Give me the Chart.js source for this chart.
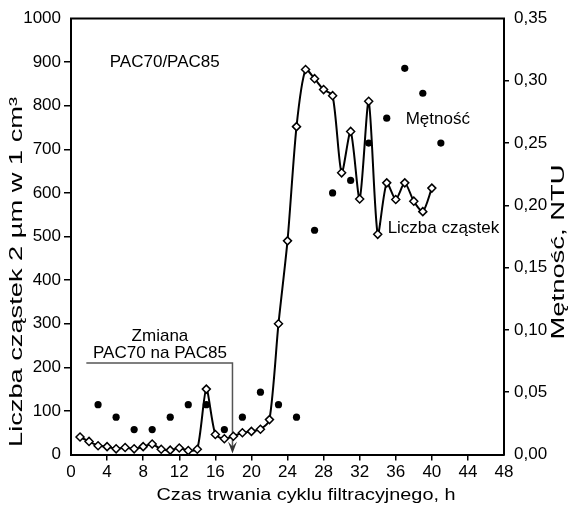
<!DOCTYPE html>
<html>
<head>
<meta charset="utf-8">
<script src="https://cdn.jsdelivr.net/npm/chart.js@4.4.0/dist/chart.umd.min.js"></script>
<style>
  body { margin: 0; background: #fff; }
  #box { width: 577px; height: 506px; }
</style>
</head>
<body>
<div id="box"><canvas id="myChart"></canvas></div>
<script>
// liczba cząstek - pomiar co godzinę
var hours = [1,2,3,4,5,6,7,8,9,10,11,12,13,14,15,16,17,18,19,20,21,22,23,24,25,26,27,28,29,30,31,32,33,34,35,36,37,38,39,40];
var particles = [40,30,20,18,13,16,13,18,24,12,10,15,9,12,150,46,36,42,50,53,58,80,300,490,752,883,862,837,823,646,741,586,810,505,623,585,623,581,557,611];
// mętność - pomiar co 2 godziny
var turbHours = [3,5,7,9,11,13,15,17,19,21,23,25,27,29,31,33,35,37,39,41];
var turbidity = [0.04,0.03,0.02,0.02,0.03,0.04,0.04,0.02,0.03,0.05,0.04,0.03,0.18,0.21,0.22,0.25,0.27,0.31,0.29,0.25];
var xTicks = [0,4,8,12,16,20,24,28,32,36,40,44,48];
var yTicks = [0,100,200,300,400,500,600,700,800,900,1000];
var y2Ticks = [0,0.05,0.10,0.15,0.20,0.25,0.30,0.35];
var changeAt = 17.9;    // zmiana koagulanta
var changeLevel = 210;

var FONT = '"Liberation Sans", Arial, sans-serif';
Chart.defaults.font.family = FONT;
Chart.defaults.color = '#000';

function hideEnds(ctx) {
  var n = ctx.scale.ticks.length - 1;
  return (ctx.index == 0 || ctx.index == n) ? 'rgba(0,0,0,0)' : '#000';
}

function label(c, s, x, y, size, align, w) {
  c.font = size + 'px ' + FONT;
  c.textAlign = align;
  c.textBaseline = 'middle';
  c.fillStyle = '#000';
  if (w) {
    var k = w / c.measureText(s).width;
    c.save(); c.translate(x, y); c.scale(k, 1); c.fillText(s, 0, 0); c.restore();
  } else {
    c.fillText(s, x, y);
  }
}

var annot = {
  id: 'annot',
  beforeDatasetsDraw: function(chart) {
    var c = chart.ctx, x = chart.scales.x, y = chart.scales.y, a = chart.chartArea;
    var xs = x.getPixelForValue(changeAt), yl = y.getPixelForValue(changeLevel);
    c.save();
    c.strokeStyle = '#555';
    c.lineWidth = 1.5;
    c.beginPath();
    c.moveTo(x.getPixelForValue(1.7), yl);
    c.lineTo(xs, yl);
    c.lineTo(xs, a.bottom - 6);
    c.stroke();
    c.fillStyle = '#333';
    c.beginPath();
    c.moveTo(xs, a.bottom - 1);
    c.lineTo(xs - 4.5, a.bottom - 13);
    c.lineTo(xs, a.bottom - 8);
    c.lineTo(xs + 4.5, a.bottom - 13);
    c.closePath();
    c.fill();
    c.restore();
  },
  afterDraw: function(chart) {
    var c = chart.ctx, x = chart.scales.x, y = chart.scales.y, a = chart.chartArea;
    c.save();
    c.strokeStyle = '#000';
    c.lineWidth = 2;
    c.beginPath();
    c.moveTo(a.left - 1, a.top);
    c.lineTo(a.right + 1, a.top);
    c.stroke();

    label(c, 'PAC70/PAC85', x.getPixelForValue(4.3), y.getPixelForValue(900), 17, 'left');
    label(c, 'Mętność', x.getPixelForValue(37.1), y.getPixelForValue(768), 17, 'left');
    label(c, 'Liczba cząstek', x.getPixelForValue(35.1), y.getPixelForValue(518), 17, 'left');
    label(c, 'Zmiana', x.getPixelForValue(9.86), y.getPixelForValue(270), 17, 'center');
    label(c, 'PAC70 na PAC85', x.getPixelForValue(9.86), y.getPixelForValue(233), 17, 'center', 134);

    // tytuły osi
    label(c, 'Czas trwania cyklu filtracyjnego, h', 306, 495.5, 17, 'center', 299);
    c.save();
    c.translate(17, 272);
    c.rotate(-Math.PI / 2);
    label(c, 'Liczba cząstek 2 µm w 1 cm³', 0, 0, 18, 'center', 350);
    c.restore();
    c.save();
    c.translate(559, 252);
    c.rotate(-Math.PI / 2);
    label(c, 'Mętność, NTU', 0, 0, 18, 'center', 175);
    c.restore();
    c.restore();
  }
};

var ctx = document.getElementById('myChart').getContext('2d');
var chart = new Chart(ctx, {
  type: 'line',
  data: {
    datasets: [{
      label: 'Liczba cząstek',
      data: hours.map(function(h, i) { return {x: h, y: particles[i]}; }),
      yAxisID: 'y',
      borderColor: '#000',
      borderWidth: 2,
      tension: 0.25,
      pointStyle: 'rectRot',
      pointRadius: 4,
      pointBackgroundColor: '#fff',
      pointBorderColor: '#000',
      pointBorderWidth: 1.5
    }, {
      label: 'Mętność',
      data: turbHours.map(function(h, i) { return {x: h, y: turbidity[i]}; }),
      yAxisID: 'y2',
      showLine: false,
      pointStyle: 'circle',
      pointRadius: 3.6,
      pointBackgroundColor: '#000',
      pointBorderColor: '#000',
      pointBorderWidth: 0
    }]
  },
  options: {
    responsive: true,
    maintainAspectRatio: false,
    animation: false,
    layout: { padding: { top: 18.5, left: 0, right: 0, bottom: 0 } },
    plugins: { legend: { display: false }, tooltip: { enabled: false } },
    scales: {
      x: {
        type: 'linear', min: 0, max: 48,
        afterBuildTicks: function(s) { s.ticks = xTicks.map(function(v) { return {value: v}; }); },
        afterFit: function(s) { s.height = 51.5; },
        ticks: { font: { size: 17 }, color: '#000', padding: 2, maxRotation: 0, autoSkip: false },
        grid: { drawOnChartArea: false, tickLength: 6, lineWidth: 1.5, color: hideEnds },
        border: { color: '#000', width: 2 }
      },
      y: {
        position: 'left', min: 0, max: 1000,
        afterBuildTicks: function(s) { s.ticks = yTicks.map(function(v) { return {value: v}; }); },
        afterFit: function(s) { s.width = 71; },
        ticks: { font: { size: 17 }, color: '#000', padding: 3,
          callback: function(v) { return String(v); } },
        grid: { drawOnChartArea: false, tickLength: 7, lineWidth: 1.5, color: hideEnds },
        border: { color: '#000', width: 2 }
      },
      y2: {
        position: 'right', min: 0, max: 0.35,
        afterBuildTicks: function(s) { s.ticks = y2Ticks.map(function(v) { return {value: v}; }); },
        afterFit: function(s) { s.width = 73; },
        ticks: {
          font: { size: 17 }, color: '#000', padding: 5,
          callback: function(v) { return v.toFixed(2).replace('.', ','); }
        },
        grid: { drawOnChartArea: false, tickLength: 5, lineWidth: 1.5, color: hideEnds },
        border: { color: '#000', width: 2 }
      }
    }
  },
  plugins: [annot]
});
</script>
</body>
</html>
